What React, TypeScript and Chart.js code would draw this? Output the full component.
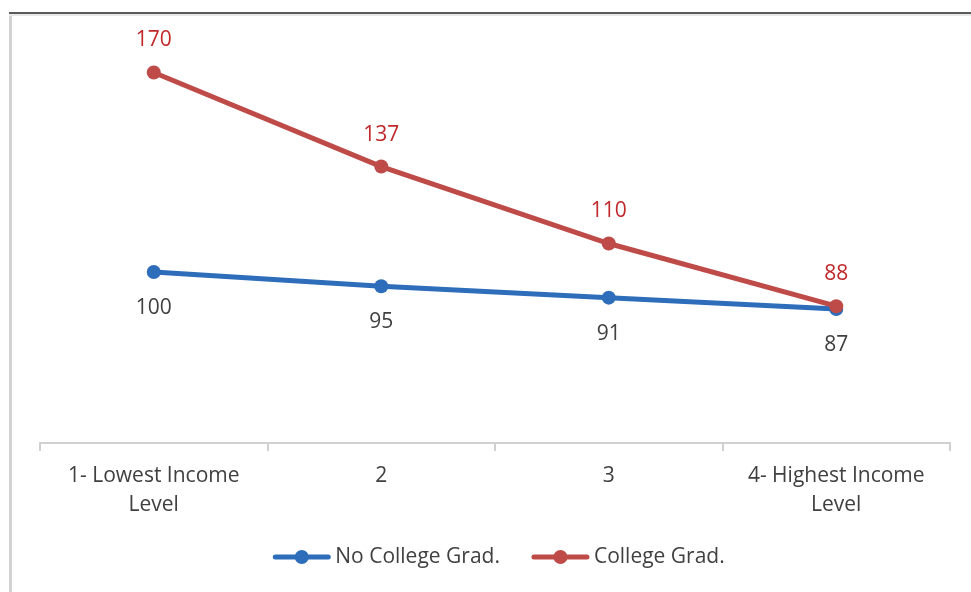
import React, { useEffect, useRef } from "react";
import { Chart, registerables } from "chart.js";

Chart.register(...registerables);

const categories: (string | string[])[] = [
  ["1- Lowest Income", "Level"],
  "2",
  "3",
  ["4- Highest Income", "Level"],
];
const noCollege = [100, 95, 91, 87];
const college = [170, 137, 110, 88];
const seriesNames = ["No College Grad.", "College Grad."];

const BLUE = "#2D6DBA";
const RED = "#BE4B48";
const RED_TEXT = "#C0282A";
const TEXT = "#404040";
const FONT = "'Open Sans', sans-serif";

const framePlugin = {
  id: "frame",
  beforeDraw(chart: any) {
    const ctx = chart.ctx;
    ctx.save();
    ctx.fillStyle = "#ffffff";
    ctx.fillRect(0, 0, chart.width, chart.height);
    ctx.fillStyle = "#d2d2d2";
    ctx.fillRect(9, 12, 3, chart.height - 12);
    ctx.fillStyle = "#e8e8e8";
    ctx.fillRect(9, 14, chart.width - 9, 2);
    ctx.fillStyle = "#5a5a5a";
    ctx.fillRect(9, 12, chart.width - 9, 2);
    ctx.restore();
  },
};

const labelsPlugin = {
  id: "dataLabels",
  afterDatasetsDraw(chart: any) {
    const ctx = chart.ctx;
    ctx.save();
    ctx.font = `21px ${FONT}`;
    ctx.textAlign = "center";
    ctx.textBaseline = "middle";
    chart.data.datasets.forEach((ds: any, i: number) => {
      const meta = chart.getDatasetMeta(i);
      const above = ds.label === seriesNames[1];
      ctx.fillStyle = above ? RED_TEXT : TEXT;
      meta.data.forEach((pt: any, j: number) => {
        const y = above ? pt.y - 32 : pt.y + 36;
        ctx.fillText(String(ds.data[j]), pt.x, y);
      });
    });
    ctx.restore();
  },
};

const legendPlugin = {
  id: "customLegend",
  afterDraw(chart: any) {
    const ctx = chart.ctx;
    ctx.save();
    ctx.font = `21px ${FONT}`;
    ctx.textBaseline = "middle";
    const lineLen = 57;
    const gap = 5;
    const itemGap = 32;
    const items = [
      { text: seriesNames[0], color: BLUE },
      { text: seriesNames[1], color: RED },
    ];
    const widths = items.map((it) => lineLen + gap + ctx.measureText(it.text).width);
    const total = widths.reduce((a, b) => a + b, 0) + itemGap;
    let x = 499 - total / 2;
    const y = 557;
    items.forEach((it, i) => {
      ctx.strokeStyle = it.color;
      ctx.lineWidth = 5;
      ctx.lineCap = "round";
      ctx.beginPath();
      ctx.moveTo(x + 2, y);
      ctx.lineTo(x + lineLen - 2, y);
      ctx.stroke();
      ctx.fillStyle = it.color;
      ctx.beginPath();
      ctx.arc(x + lineLen / 2, y, 7, 0, Math.PI * 2);
      ctx.fill();
      ctx.fillStyle = TEXT;
      ctx.fillText(it.text, x + lineLen + gap, y);
      x += widths[i] + itemGap;
    });
    ctx.restore();
  },
};

export default function App() {
  const ref = useRef<HTMLCanvasElement | null>(null);
  useEffect(() => {
    if (!ref.current) return;
    const chart = new Chart(ref.current, {
      type: "line",
      data: {
        labels: categories,
        datasets: [
          {
            label: seriesNames[0],
            data: noCollege,
            borderColor: BLUE,
            backgroundColor: BLUE,
            borderWidth: 5,
            pointRadius: 7,
            pointHoverRadius: 7,
            pointBorderWidth: 0,
            tension: 0,
            order: 1,
          },
          {
            label: seriesNames[1],
            data: college,
            borderColor: RED,
            backgroundColor: RED,
            borderWidth: 5,
            pointRadius: 7,
            pointHoverRadius: 7,
            pointBorderWidth: 0,
            tension: 0,
            order: 0,
          },
        ],
      },
      options: {
        animation: false,
        responsive: false,
        maintainAspectRatio: false,
        layout: { padding: { left: 40, right: 21, top: 44, bottom: 0 } },
        plugins: {
          legend: { display: false },
          tooltip: { enabled: false },
        },
        scales: {
          x: {
            offset: true,
            grid: {
              offset: true,
              drawOnChartArea: false,
              drawTicks: true,
              tickLength: 8,
              color: "#d0d0d0",
              lineWidth: 2,
            },
            border: { display: true, color: "#d0d0d0", width: 2 },
            ticks: {
              color: TEXT,
              font: { family: FONT, size: 21, lineHeight: 1.4 },
              maxRotation: 0,
              autoSkip: false,
              padding: 10,
            },
            afterFit(scale: any) {
              scale.height = 149;
            },
          },
          y: {
            display: false,
            min: 40,
            max: 180,
          },
        },
      },
      plugins: [framePlugin, labelsPlugin, legendPlugin],
    });
    return () => chart.destroy();
  }, []);
  return (
    <div style={{ position: "fixed", left: 0, top: 0, width: 971, height: 592 }}>
      <canvas ref={ref} width={971} height={592} style={{ width: 971, height: 592, display: "block" }} />
    </div>
  );
}
